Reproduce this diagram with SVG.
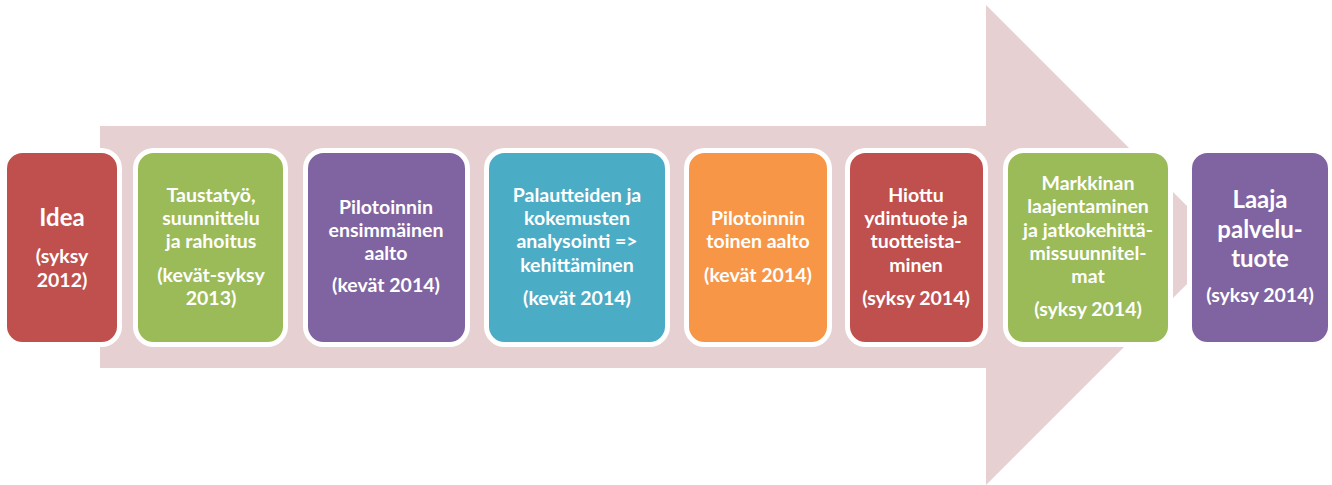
<svg xmlns="http://www.w3.org/2000/svg" width="1332" height="485" viewBox="0 0 1332 485">
<style>
.box{stroke:#FFFFFF;stroke-width:5}
.t{font-family:Lato,"Liberation Sans",sans-serif;font-weight:bold;fill:#FFFFFF;text-anchor:middle;font-size:19.5px}
.big{font-size:24px}
</style>
<rect width="1332" height="485" fill="#FFFFFF"/>
<g id="connectors">
<polygon id="arrow" points="100,126 986,126 986,5 1226,245 986,485 986,368 100,368" fill="#E6D0D1"/>
</g>
<g id="n1">
<rect class="box" x="4.5" y="150.5" width="115" height="194" rx="18" fill="#C0504D"/>
<text class="t big" x="62" y="226">Idea</text>
<text class="t" x="62" y="263">(syksy</text>
<text class="t" x="62" y="287">2012)</text>
</g>
<g id="n2">
<rect class="box" x="135.5" y="150.5" width="150" height="194" rx="18" fill="#9BBB59"/>
<text class="t" x="211" y="202">Taustatyö,</text>
<text class="t" x="211" y="225">suunnittelu</text>
<text class="t" x="211" y="248">ja rahoitus</text>
<text class="t" x="211" y="282">(kevät-syksy</text>
<text class="t" x="211" y="305">2013)</text>
</g>
<g id="n3">
<rect class="box" x="305.5" y="150.5" width="162" height="194" rx="18" fill="#8064A2"/>
<text class="t" x="386" y="214">Pilotoinnin</text>
<text class="t" x="386" y="237">ensimmäinen</text>
<text class="t" x="386" y="260">aalto</text>
<text class="t" x="386" y="292">(kevät 2014)</text>
</g>
<g id="n4">
<rect class="box" x="486.5" y="150.5" width="181" height="194" rx="18" fill="#4BACC6"/>
<text class="t" x="577" y="202">Palautteiden ja</text>
<text class="t" x="577" y="225">kokemusten</text>
<text class="t" x="577" y="248">analysointi =&gt;</text>
<text class="t" x="577" y="272">kehittäminen</text>
<text class="t" x="577" y="305">(kevät 2014)</text>
</g>
<g id="n5">
<rect class="box" x="686.5" y="150.5" width="143" height="194" rx="18" fill="#F79646"/>
<text class="t" x="758" y="225">Pilotoinnin</text>
<text class="t" x="758" y="248">toinen aalto</text>
<text class="t" x="758" y="282">(kevät 2014)</text>
</g>
<g id="n6">
<rect class="box" x="847.5" y="150.5" width="138" height="194" rx="18" fill="#C0504D"/>
<text class="t" x="916" y="202">Hiottu</text>
<text class="t" x="916" y="225">ydintuote ja</text>
<text class="t" x="916" y="248">tuotteista-</text>
<text class="t" x="916" y="272">minen</text>
<text class="t" x="916" y="305">(syksy 2014)</text>
</g>
<g id="n7">
<rect class="box" x="1005.5" y="150.5" width="165" height="194" rx="18" fill="#9BBB59"/>
<text class="t" x="1088" y="190">Markkinan</text>
<text class="t" x="1088" y="213">laajentaminen</text>
<text class="t" x="1088" y="237">ja jatkokehittä-</text>
<text class="t" x="1088" y="260">missuunnitel-</text>
<text class="t" x="1088" y="283">mat</text>
<text class="t" x="1088" y="316">(syksy 2014)</text>
</g>
<g id="n8">
<rect class="box" x="1189.5" y="150.5" width="141" height="194" rx="18" fill="#8064A2"/>
<text class="t big" x="1260" y="208">Laaja</text>
<text class="t big" x="1260" y="238">palvelu-</text>
<text class="t big" x="1260" y="267">tuote</text>
<text class="t" x="1260" y="302">(syksy 2014)</text>
</g>
</svg>
